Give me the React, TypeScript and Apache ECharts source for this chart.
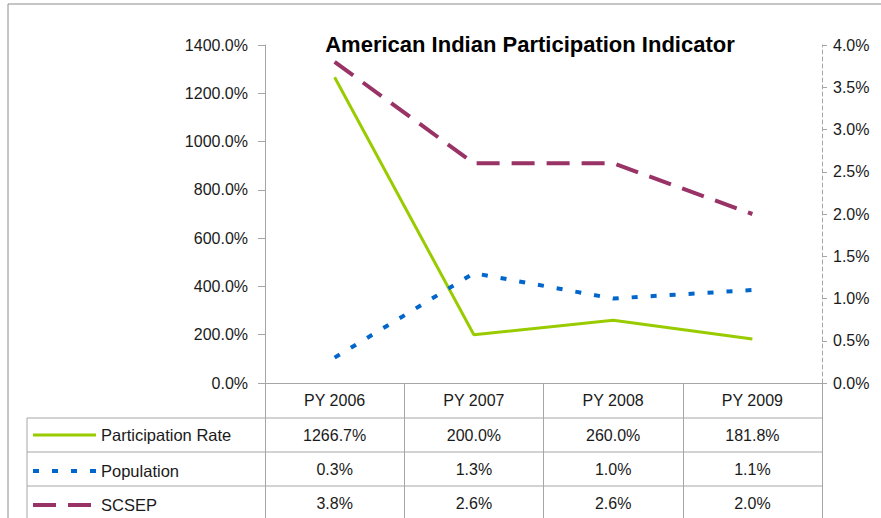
import React, { useEffect, useRef } from "react";
import * as echarts from "echarts";

const categories = ["PY 2006", "PY 2007", "PY 2008", "PY 2009"];
const participationRate = [1266.7, 200.0, 260.0, 181.8];
const population = [0.3, 1.3, 1.0, 1.1];
const scsep = [3.8, 2.6, 2.6, 2.0];
const seriesNames = ["Participation Rate", "Population", "SCSEP"];
const colors = ["#99CC00", "#0066CC", "#993366"];

const FONT = "Liberation Sans, Arial, sans-serif";
const GRAY = "#a6a6a6";

export default function App() {
  const ref = useRef<HTMLDivElement>(null);
  useEffect(() => {
    document.body.style.margin = "0";
    const chart = echarts.init(ref.current!, undefined, { renderer: "svg" });
    const fmt = (v: number) => v.toFixed(1) + "%";
    const rows = [participationRate, population, scsep];
    const rowOffsets = [35, 69, 103];
    const extraX = rows.map((r, i) => ({
      type: "category" as const,
      position: "bottom" as const,
      offset: rowOffsets[i],
      data: r.map(fmt),
      axisLine: { show: false },
      axisTick: { show: false },
      axisLabel: { margin: 17, verticalAlign: "middle", color: "#1a1a1a", fontSize: 16, fontFamily: FONT },
    }));
    const legendY = [435, 471, 505];
    const legendGraphics: any[] = [];
    seriesNames.forEach((n, i) => {
      legendGraphics.push({
        type: "line",
        shape: { x1: 33, y1: legendY[i], x2: 96, y2: legendY[i] },
        style: {
          stroke: colors[i],
          lineWidth: i === 0 ? 3 : 4,
          lineDash: i === 0 ? null : i === 1 ? [6, 13] : [23, 12],
        },
      });
      legendGraphics.push({
        type: "text",
        x: 101,
        y: legendY[i],
        style: { text: n, fill: "#1a1a1a", font: `16.5px ${FONT}`, textVerticalAlign: "middle" },
      });
    });
    const hLines = [418, 452, 486].map((y) => ({
      type: "line",
      shape: { x1: 27, y1: y, x2: 822, y2: y },
      style: { stroke: GRAY, lineWidth: 1 },
    }));
    chart.setOption({
      animation: false,
      grid: { left: 265, right: 59, top: 45, bottom: 135, containLabel: false },
      xAxis: [
        {
          type: "category",
          data: categories,
          boundaryGap: true,
          axisLine: { lineStyle: { color: GRAY } },
          axisTick: { show: true, interval: 0, length: 135, lineStyle: { color: GRAY } },
          axisLabel: { margin: 17, verticalAlign: "middle", color: "#1a1a1a", fontSize: 16, fontFamily: FONT },
        },
        ...extraX,
      ],
      yAxis: [
        {
          type: "value",
          min: 0,
          max: 1400,
          interval: 200,
          splitLine: { show: false },
          axisLine: { show: true, lineStyle: { color: GRAY } },
          axisTick: { show: true, length: 7, lineStyle: { color: GRAY } },
          axisLabel: { formatter: fmt, margin: 17, color: "#1a1a1a", fontSize: 16, fontFamily: FONT },
        },
        {
          type: "value",
          position: "right",
          min: 0,
          max: 4,
          interval: 0.5,
          splitLine: { show: false },
          axisLine: { show: true, lineStyle: { color: GRAY, type: [4, 3] } },
          axisTick: { show: true, length: 5, lineStyle: { color: GRAY } },
          axisLabel: { formatter: fmt, margin: 11, color: "#1a1a1a", fontSize: 16, fontFamily: FONT },
        },
      ],
      series: [
        {
          name: seriesNames[0],
          type: "line",
          yAxisIndex: 0,
          data: participationRate,
          showSymbol: false,
          lineStyle: { color: colors[0], width: 3 },
        },
        {
          name: seriesNames[1],
          type: "line",
          yAxisIndex: 1,
          data: population,
          showSymbol: false,
          lineStyle: { color: colors[1], width: 4, type: [6, 13] },
        },
        {
          name: seriesNames[2],
          type: "line",
          yAxisIndex: 1,
          data: scsep,
          showSymbol: false,
          lineStyle: { color: colors[2], width: 4, type: [23, 12] },
        },
      ],
      graphic: [
        {
          type: "rect",
          shape: { x: 8, y: 4, width: 1000, height: 1000 },
          style: { fill: "none", stroke: "#8c8c8c", lineWidth: 1 },
          silent: true,
        },
        {
          type: "line",
          shape: { x1: 27, y1: 418, x2: 27, y2: 518 },
          style: { stroke: GRAY, lineWidth: 1 },
        },
        ...hLines,
        ...legendGraphics,
        {
          type: "text",
          x: 530,
          y: 44,
          style: {
            text: "American Indian Participation Indicator",
            fill: "#000",
            font: `bold 22px ${FONT}`,
            textAlign: "center",
            textVerticalAlign: "middle",
          },
        },
      ],
    });
    return () => chart.dispose();
  }, []);
  return <div ref={ref} style={{ position: "fixed", left: 0, top: 0, width: 881, height: 518, background: "#fff" }} />;
}
